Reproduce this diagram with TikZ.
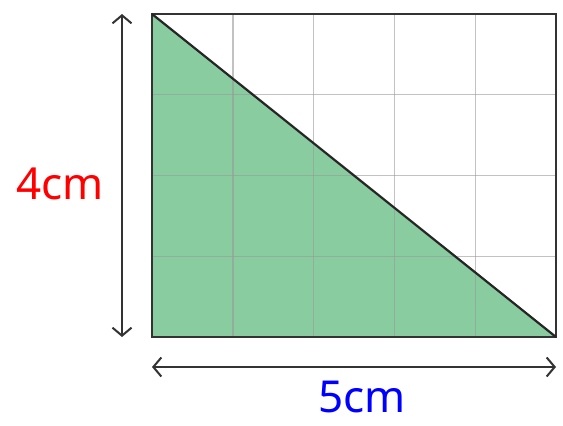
\documentclass[tikz,border=0pt]{standalone}
\usepackage{fontspec}
\setmainfont{Noto Sans}
\usetikzlibrary{arrows.meta}
\definecolor{tgreen}{RGB}{137,204,160}
\tikzset{
  gridline/.style={draw=black!40, line width=1.4pt, opacity=0.6},
  border/.style={draw=black!80, line width=2.2pt},
  dimarrow/.style={draw=black!80, line width=2pt, {Straight Barb[length=8pt,width=19pt]}-{Straight Barb[length=8pt,width=19pt]}},
  lbl/.style={font=\fontsize{44}{44}\selectfont, inner sep=0pt}
}
\begin{document}
\begin{tikzpicture}[x=1pt,y=-1pt]
\useasboundingbox (0,0) rectangle (563,426);
\coordinate (tl) at (152,14);
\coordinate (bl) at (152,337);
\coordinate (br) at (556,337);
\coordinate (tr) at (556,14);
\fill[tgreen] (tl) -- (bl) -- (br) -- cycle;
\foreach \i in {1,2,3,4} \draw[gridline] (152+\i*80.8,14) -- (152+\i*80.8,337);
\foreach \j in {1,2,3} \draw[gridline] (152,14+\j*80.75) -- (556,14+\j*80.75);
\draw[border] (tl) rectangle (br);
\draw[draw=black!85, line width=2.2pt] (tl) -- (br);
\coordinate (va) at (122,14);
\coordinate (vb) at (122,337);
\draw[dimarrow] (va) -- (vb);
\coordinate (ha) at (152,367);
\coordinate (hb) at (556,367);
\draw[dimarrow] (ha) -- (hb);
\node[lbl, text=red] (four) at (60,184) {4cm};
\node[lbl, text=blue] (five) at (362,397) {5cm};
\end{tikzpicture}
\end{document}
